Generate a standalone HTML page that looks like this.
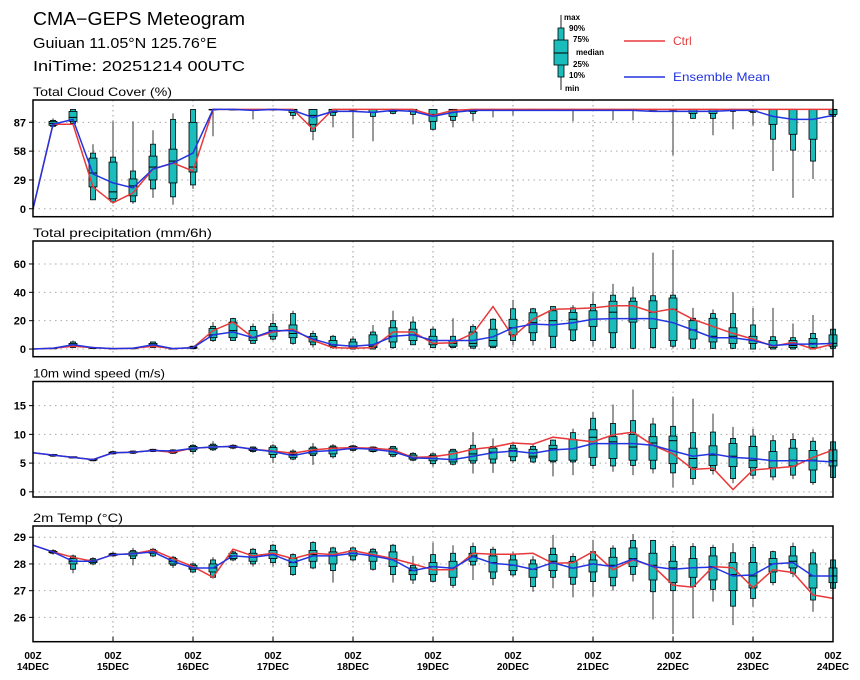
<!DOCTYPE html>
<html><head><meta charset="utf-8"><style>
html,body{margin:0;padding:0;background:#fff;}
svg{display:block;font-family:"Liberation Sans",sans-serif;}
</style></head><body>
<svg id="chart" width="860" height="680" viewBox="0 0 860 680" xmlns="http://www.w3.org/2000/svg">
<g>
<text x="33" y="25" font-size="18" textLength="212" lengthAdjust="spacingAndGlyphs" fill="#000">CMA−GEPS Meteogram</text>
<text x="33" y="48" font-size="15" textLength="184" lengthAdjust="spacingAndGlyphs" fill="#000">Guiuan 11.05°N 125.76°E</text>
<text x="33" y="71" font-size="15" textLength="212" lengthAdjust="spacingAndGlyphs" fill="#000">IniTime: 20251214 00UTC</text>
</g>
<g>
<line x1="561" y1="15" x2="561" y2="90" stroke="#222" stroke-width="1"/>
<rect x="558" y="28" width="6" height="49" fill="#1bbcbc" stroke="#000" stroke-width="0.8"/>
<rect x="554" y="40" width="14" height="25" fill="#1bbcbc" stroke="#000" stroke-width="0.8"/>
<line x1="554" y1="53" x2="568" y2="53" stroke="#000" stroke-width="1"/>
<g font-size="8" font-weight="bold" fill="#000">
<text x="564" y="20">max</text>
<text x="569" y="31">90%</text>
<text x="573" y="42">75%</text>
<text x="576" y="55">median</text>
<text x="573" y="67">25%</text>
<text x="569" y="78">10%</text>
<text x="565" y="91">min</text>
</g>
<line x1="624" y1="41" x2="665" y2="41" stroke="#e8383a" stroke-width="1.5"/>
<text x="673" y="45" font-size="12" fill="#e8383a">Ctrl</text>
<line x1="624" y1="77" x2="665" y2="77" stroke="#2233e0" stroke-width="1.5"/>
<text x="673" y="81" font-size="12" textLength="97" lengthAdjust="spacingAndGlyphs" fill="#2233e0">Ensemble Mean</text>
</g>
</svg>
<script>
// ---- Total cloud cover ----
const ccCtrl=[0,85,85,22,6,16,40,46,38,100,100,100,100,100,80,100,100,100,100,100,94,99,100,100,100,100,100,100,100,100,100,100,100,100,100,100,100,100,100,100,100];
const ccMean=[0,85,90,35,26,21,40,46,56,100,100,99,100,99,92,98,98,97,99,98,93,97,99,99,99,99,99,99,99,99,99,98,98,98,98,99,99,93,90,90,94];
const ccMax=[null,91,100,65,88,88,79,96,100,100,100,100,100,100,100,100,100,100,100,100,100,100,100,100,100,100,100,100,100,100,100,100,100,100,100,100,100,100,100,100,100];
const ccP90=[null,89,100,56,52,38,65,90,100,100,100,100,100,100,100,100,100,100,100,100,100,100,100,100,100,100,100,100,100,100,100,100,100,100,100,100,100,100,100,100,100];
const ccP75=[null,88,98,51,47,30,53,60,87,100,100,100,100,100,100,100,100,100,100,100,100,100,100,100,100,100,100,100,100,100,100,100,100,100,100,100,100,100,100,100,100];
const ccMed=[null,86,92,36,17,23,42,48,42,100,100,100,100,100,94,100,100,100,100,100,95,100,100,100,100,100,100,100,100,100,100,100,100,100,100,100,100,100,100,100,100];
const ccP25=[null,84,88,22,10,13,29,26,37,100,100,100,100,97,85,97,100,97,98,98,88,93,98,100,100,100,100,100,100,100,100,100,100,96,96,100,98,85,75,70,95];
const ccP10=[null,83,86,9,7,7,20,12,24,100,100,100,100,94,78,94,100,93,96,95,80,89,96,100,100,100,100,100,100,100,100,100,100,91,91,98,97,70,59,48,93];
const ccMin=[null,82,84,9,5,5,11,4,20,73,99,90,99,90,69,82,71,68,95,85,79,82,88,92,94,99,99,88,99,89,89,99,54,91,74,80,84,38,11,30,90];
const ccTicks=[0,29,58,87];
// ---- Total precipitation ----
const prCtrl=[0,0.5,2,1,0.3,0.5,2,0.3,1,13,19,8,12,14,6,1,0.5,1,12,12,4,4.5,11,30,8.6,21,28,28.4,29,30.5,30.5,26,28.4,21,16,11,7,2,4.7,0,3.5];
const prMean=[0,0.5,3,1,0.3,0.5,3,0.3,1,10,12,8,13,13,7,3,2,3,9,10,6,6,6,8.6,15,17.6,17,18.6,21,21.5,21.5,21.5,18.6,13.4,8,8,6,2.5,3.5,3.5,4];
const prMax=[null,1,6,1.5,0.5,1,5,0.5,2,19,22,18,25,27,13,10,9,17,27,23,16,21.7,17.6,21.7,34.7,29,30,31,40,46,44,68,70,29,28,40,29,29,18,24,25];
const prP90=[null,0.8,5,1.2,0.4,0.8,5,0.4,2,16,21.5,16,18,25,11,9,7,12,20,19,14,9,16,21,28.4,28.4,30,29,31.5,38,36,37.6,38,21.7,25,25,17,8.7,8,11,14];
const prP75=[null,0.6,4,1,0.3,0.6,4,0.3,1.5,14.5,19,13,16,17,9,6,5,10,15,14,9,6,12,14,21,25.6,27,25.8,27,33.7,33.7,34,36,20,21.7,15,9,6,6,7.5,10];
const prMed=[null,0.5,3,0.8,0.2,0.5,3,0.2,1,10,13,8,13,11,7,3,2,2,9,10,6,4,4,6,15,18.6,20,21,21,26,21,26,28,13.5,9,9,6,2.5,2.5,4,4];
const prP25=[null,0.3,2,0.5,0.1,0.3,2,0.1,0.5,8,8,6,9,8,5,2,1,1,5,6,3,2,2,2,10,11.5,9,13.5,16,11.5,19,14.5,6,7,5,4,4,1,1,1,2];
const prP10=[null,0.2,1,0.3,0,0.2,1,0,0.2,6,6,4,7,4,3,1,0,0,1,3,1,1,0.6,1,6,6,1,6,6,1,0.5,1,2,0.5,0.5,0.5,0,0,0,0,0.5];
const prMin=[null,0,1,0.2,0,0,0.8,0,0,5,6,4,6,3,1,0,0,0,0,3,0.5,0.5,0.3,0.5,2.5,2.5,1,5,2,0,0,0,0.5,0,0,0,0,0,0,0,0];
const prTicks=[0,20,40,60];
// ---- 10m wind speed ----
const wsCtrl=[6.8,6.4,6.0,5.6,6.8,6.9,7.2,6.9,7.6,7.8,7.9,7.4,7.1,6.7,7.3,7.6,7.7,7.6,7.3,6.0,6.1,6.6,7.4,7.8,8.5,8.3,9.5,9.1,8.7,9.9,10.4,8.1,6.6,3.9,4.1,0.4,3.8,4.1,4.4,6.0,7.3];
const wsMean=[6.8,6.4,6.0,5.6,6.8,6.9,7.2,7.1,7.6,7.8,7.9,7.4,7.0,6.3,7.0,7.2,7.6,7.4,7.0,5.9,5.8,5.6,6.2,6.8,7.1,6.7,7.3,7.5,8.4,8.4,8.4,8.1,7.1,6.2,6.6,6.0,5.8,5.4,5.4,5.4,5.2];
const wsMax=[null,6.6,6.2,5.8,7.2,7.2,7.5,7.4,8.3,8.8,8.3,7.9,8.3,7.4,8.5,8.3,8.2,7.9,8.0,6.9,6.8,7.5,10.4,9.3,8.7,8.4,9.1,11,13.9,15.2,17.8,12.9,16.6,16.2,13.6,11.3,11,9.9,10.2,9.5,9];
const wsP90=[null,6.5,6.1,5.7,7.0,7.1,7.4,7.3,8.1,8.3,8.1,7.8,8.0,7.1,7.8,8.0,8.0,7.8,7.9,6.7,6.6,7.4,8.1,7.9,8.1,7.9,9.0,10.3,12.8,11.9,12.4,11.8,11.4,10.3,10.4,9.3,9.7,8.9,9.1,8.8,8.7];
const wsP75=[null,6.5,6.1,5.7,6.9,7.0,7.3,7.2,7.9,8.1,8.0,7.6,7.7,6.9,7.6,7.8,7.9,7.7,7.6,6.4,6.3,7.1,7.5,7.6,7.6,7.4,8.1,9.1,10.8,9.6,10,9.6,9.7,7.6,8.0,8.4,7.9,7.0,7.6,7.2,7.3];
const wsMed=[null,6.4,6.0,5.6,6.8,6.9,7.2,7.0,7.6,7.8,7.9,7.4,7.0,6.5,7.1,7.2,7.6,7.4,7.0,6.0,5.8,5.6,6.6,6.9,7.2,6.2,7.5,9.1,9.5,8.7,7.8,8.5,8.9,5.8,6.4,6.2,5.5,5.4,5.5,5.5,5.4];
const wsP25=[null,6.3,5.9,5.5,6.7,6.8,7.1,6.8,7.3,7.5,7.7,7.2,6.5,6.0,6.6,6.6,7.4,7.1,6.5,5.7,5.4,5.2,5.4,5.7,6.1,5.9,5.4,5.5,6,5.8,5.5,5.5,4.9,4.2,4.6,4.4,4.2,4.2,4.5,3.8,4.5];
const wsP10=[null,6.2,5.9,5.4,6.6,6.7,7.0,6.7,7.0,7.3,7.6,7.0,6.0,5.7,6.3,6.1,7.2,7.0,6.2,5.5,4.9,4.8,5.0,5.0,5.4,5.2,5.2,5.2,4.6,4.5,4.6,4.0,3.3,2.3,3.7,2.3,2.9,2.6,2.9,1.6,2.5];
const wsMin=[null,6.1,5.8,5.3,6.5,6.6,6.9,6.6,6.5,7.1,7.4,6.8,5.0,5.5,4.7,5.8,7.0,6.8,6.0,5.3,4.4,4.6,3.2,3.3,5.0,5.0,2.7,2.9,4.0,3.5,2.9,3.2,0.8,1.2,3.0,1.5,2.2,2.0,2.2,1.2,2.2];
const wsTicks=[0,5,10,15];
// ---- 2m temperature ----
const t2Ctrl=[28.7,28.45,28.25,28.1,28.35,28.38,28.52,28.2,27.9,27.5,28.55,28.3,28.4,28.2,28.4,28.35,28.5,28.35,28.2,28.0,27.78,27.78,28.4,28.36,28.36,28.4,28.02,28.05,28.46,27.78,28.15,27.92,27.21,27.13,27.9,27.86,27.11,27.78,27.68,26.84,26.71];
const t2Mean=[28.7,28.45,28.1,28.1,28.35,28.38,28.45,28.1,27.85,27.85,28.3,28.25,28.35,28.05,28.3,28.3,28.4,28.3,28.15,27.75,27.9,27.84,28.28,28.02,27.96,27.8,28.05,27.84,28.0,27.9,28.18,27.9,27.8,27.86,27.88,27.55,27.59,28.0,28.05,27.55,27.55];
const t2Max=[null,28.55,28.35,28.25,28.45,28.6,28.6,28.3,28.05,28.25,28.5,28.6,28.75,28.4,28.85,28.65,28.65,28.6,28.75,28.3,28.8,28.7,28.8,28.65,28.45,28.3,29.09,28.4,28.9,28.7,29.12,28.9,28.75,28.78,28.72,28.78,28.75,28.5,28.8,28.55,28.3];
const t2P90=[null,28.5,28.3,28.2,28.4,28.5,28.55,28.25,28.0,28.15,28.45,28.55,28.7,28.35,28.8,28.6,28.6,28.55,28.7,27.95,28.35,28.4,28.65,28.55,28.34,28.15,28.59,28.28,28.46,28.59,28.88,28.88,28.65,28.65,28.62,28.42,28.62,28.46,28.65,28.42,28.15];
const t2P75=[null,28.47,28.2,28.15,28.38,28.45,28.5,28.2,27.95,28.0,28.4,28.4,28.5,28.2,28.5,28.45,28.5,28.45,28.45,27.85,28.05,28.1,28.4,28.3,28.15,28.0,28.35,28.1,28.15,28.25,28.6,28.4,28.1,28.2,28.3,28.05,28.05,28.2,28.3,28.0,27.85];
const t2Med=[null,28.45,28.1,28.1,28.35,28.38,28.45,28.1,27.85,27.85,28.3,28.25,28.35,28.05,28.35,28.3,28.4,28.3,28.2,27.75,27.9,27.85,28.3,28.05,27.95,27.8,28.1,27.85,28.0,27.95,28.2,27.95,27.85,27.85,27.9,27.6,27.55,28.0,28.1,27.55,27.55];
const t2P25=[null,28.42,28.0,28.05,28.32,28.3,28.4,28.0,27.8,27.7,28.2,28.1,28.2,27.9,28.1,28.0,28.3,28.1,27.9,27.6,27.6,27.5,28.1,27.7,27.75,27.5,27.75,27.5,27.7,27.5,27.9,27.4,27.3,27.5,27.4,27.0,27.1,27.7,27.85,27.1,27.3];
const t2P10=[null,28.4,27.8,28.0,28.3,28.2,28.3,27.95,27.7,27.5,28.15,28.0,28.05,27.6,27.85,27.75,28.15,27.8,27.6,27.4,27.35,27.2,27.96,27.46,27.59,27.15,27.5,27.24,27.34,27.18,27.61,26.96,27.0,27.15,27.05,26.42,26.71,27.3,27.65,26.65,27.09];
const t2Min=[null,28.35,27.65,27.95,28.28,27.95,28.25,27.85,27.65,27.45,28.1,27.9,27.9,27.55,27.8,27.3,28.1,27.75,27.3,27.25,27.3,27.1,27.4,27.2,27.5,26.96,27.09,26.75,26.78,27.0,27.34,25.92,25.38,25.96,26.59,25.71,26.4,27.2,27.5,26.21,26.9];
const t2Ticks=[26,27,28,29];
// ---- time axis ----
const dayHours=["00Z","00Z","00Z","00Z","00Z","00Z","00Z","00Z","00Z","00Z","00Z"];
const dayLabels=["14DEC","15DEC","16DEC","17DEC","18DEC","19DEC","20DEC","21DEC","22DEC","23DEC","24DEC"];

const NS="http://www.w3.org/2000/svg";
const svg=document.getElementById('chart');
const X0=33,X1=833,NSTEP=40;
function xAt(i){return X0+(X1-X0)*i/NSTEP;}
function mk(tag,attrs,parent){const e=document.createElementNS(NS,tag);for(const k in attrs)e.setAttribute(k,attrs[k]);(parent||svg).appendChild(e);return e;}

const panels=[
 {key:'cloud',title:'Total Cloud Cover (%)',tlen:139,top:100,bot:216.7,vmin:-8,vmax:109.5,ticks:ccTicks,ctrl:ccCtrl,mean:ccMean,mx:ccMax,p90:ccP90,p75:ccP75,med:ccMed,p25:ccP25,p10:ccP10,mn:ccMin},
 {key:'precip',title:'Total precipitation (mm/6h)',tlen:179,top:241,bot:356.7,vmin:-5.4,vmax:76.2,ticks:prTicks,ctrl:prCtrl,mean:prMean,mx:prMax,p90:prP90,p75:prP75,med:prMed,p25:prP25,p10:prP10,mn:prMin},
 {key:'wind',title:'10m wind speed (m/s)',tlen:132,top:381.5,bot:497,vmin:-0.9,vmax:19.2,ticks:wsTicks,ctrl:wsCtrl,mean:wsMean,mx:wsMax,p90:wsP90,p75:wsP75,med:wsMed,p25:wsP25,p10:wsP10,mn:wsMin},
 {key:'temp',title:'2m Temp (°C)',tlen:90,top:526,bot:641.7,vmin:25.09,vmax:29.42,ticks:t2Ticks,ctrl:t2Ctrl,mean:t2Mean,mx:t2Max,p90:t2P90,p75:t2P75,med:t2Med,p25:t2P25,p10:t2P10,mn:t2Min}
];

panels.forEach(function(p){
 const g=mk('g',{});
 
 
 function y(v){return p.bot-(v-p.vmin)/(p.vmax-p.vmin)*(p.bot-p.top);}
 const t=mk('text',{x:33,y:p.top-4,'font-size':12,fill:'#000',textLength:p.tlen,lengthAdjust:'spacingAndGlyphs'},g);
 
 
 t.textContent=p.title;
 for(let d=1;d<10;d++){
  const gl=mk('line',{x1:xAt(d*4),x2:xAt(d*4),y1:p.top,y2:p.bot,stroke:'#999','stroke-width':1,'stroke-dasharray':'1.5,3.5'},g);
  
  
 }
 p.ticks.forEach(function(tv){
  const yy=y(tv);
  const hl=mk('line',{x1:X0,x2:X1,y1:yy,y2:yy,stroke:'#aaa','stroke-width':1,'stroke-dasharray':'1.5,4'},g);
  
  
  const tk=mk('line',{x1:X0-4,x2:X0,y1:yy,y2:yy,stroke:'#000','stroke-width':1},g);
  
  
  const tl=mk('text',{x:X0-7,y:yy+4,'font-size':11,'font-weight':'bold','text-anchor':'end',fill:'#000'},g);
  
  
  tl.textContent=tv;
 });
 for(let i=0;i<=NSTEP;i++){
  if(p.mx[i]==null)continue;
  const cx=xAt(i);
  const bg=mk('g',{},g);
  
  
  const w=mk('line',{x1:cx,x2:cx,y1:y(p.mx[i]),y2:y(p.mn[i]),stroke:'#333','stroke-width':1},bg);
  
  
  const o=mk('rect',{x:cx-2.5,y:y(p.p90[i]),width:5,height:Math.max(0.5,y(p.p10[i])-y(p.p90[i])),fill:'#1bbcbc',stroke:'#000','stroke-width':0.8},bg);
  
  
  const n=mk('rect',{x:cx-4,y:y(p.p75[i]),width:8,height:Math.max(0.5,y(p.p25[i])-y(p.p75[i])),fill:'#1bbcbc',stroke:'#000','stroke-width':0.8},bg);
  
  
  const m=mk('line',{x1:cx-4,x2:cx+4,y1:y(p.med[i]),y2:y(p.med[i]),stroke:'#000','stroke-width':1},bg);
  
  
 }
 function path(arr){return arr.map(function(v,i){return (i?'L':'M')+xAt(i).toFixed(1)+','+y(v).toFixed(1);}).join('');}
 const lc=mk('path',{d:path(p.ctrl),fill:'none',stroke:'#e8383a','stroke-width':1.5},g);
 
 
 const lm=mk('path',{d:path(p.mean),fill:'none',stroke:'#2233e0','stroke-width':1.5},g);
 
 
 const fr=mk('rect',{x:X0,y:p.top,width:X1-X0,height:p.bot-p.top,fill:'none',stroke:'#000','stroke-width':1.5},g);
 
 
 if(p.key==='temp'){
  for(let d=0;d<=10;d++){
   const xx=xAt(d*4);
   const bt=mk('line',{x1:xx,x2:xx,y1:p.bot-5,y2:p.bot,stroke:'#000','stroke-width':1},g);
   
   
   const h=mk('text',{x:xx,y:659,'font-size':10,'font-weight':'bold','text-anchor':'middle',fill:'#000'},g);
   
   
   h.textContent=dayHours[d];
   const dl=mk('text',{x:xx,y:670,'font-size':10,'font-weight':'bold','text-anchor':'middle',fill:'#000'},g);
   
   
   dl.textContent=dayLabels[d];
  }
 }
});
</script>
</body></html>
